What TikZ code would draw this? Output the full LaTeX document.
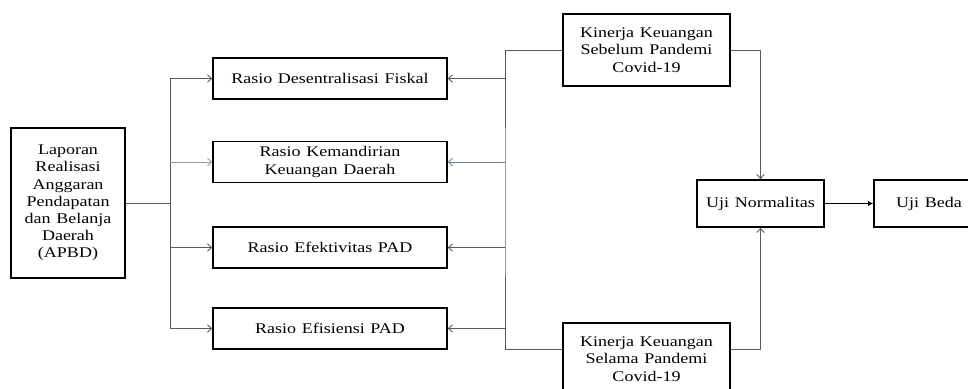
\documentclass[tikz,border=0pt]{standalone}
\usepackage{fontspec}
\setmainfont{Liberation Serif}[FakeStretch=1.22,WordSpace=1.25]
\usepackage{tikz}
\usetikzlibrary{arrows.meta,positioning,calc}
\usepackage{xcolor}
\definecolor{linegray}{HTML}{5A5A5A}
\definecolor{lightgray}{HTML}{9A9A9A}
\definecolor{slategray}{HTML}{6E7E90}

\begin{document}
\begin{tikzpicture}[
x=0.02cm, y=-0.02cm,
box/.style={
    draw,
    rectangle,
    line width=1pt,
    align=center,
    inner sep=2pt
},
rasio/.style={box, minimum width=4.68cm, minimum height=0.82cm},
kinerja/.style={box, minimum width=3.34cm, minimum height=1.44cm},
uji/.style={box, minimum height=0.94cm},
line/.style={draw=linegray, line width=0.5pt},
arr/.style={line, -{Straight Barb[length=0.8mm,width=1.5mm]}},
arrf/.style={line, draw=black, -{Latex[length=1mm,width=1mm]}},
every node/.style={font=\fontsize{8.4}{9.8}\selectfont}
]
\useasboundingbox (0,0) rectangle (968,389);

\node[box, minimum width=2.28cm, minimum height=3cm] (laporan) at (68,203) {
Laporan\\ Realisasi\\ Anggaran\\ Pendapatan\\ dan Belanja\\ Daerah\\ (APBD)
};

\node[rasio] (desentralisasi) at (330,78.5) {Rasio Desentralisasi Fiskal};
\node[rasio] (kemandirian) at (330,162) {Rasio Kemandirian\\ Keuangan Daerah};
\node[rasio] (efektivitas) at (330,247.5) {Rasio Efektivitas PAD};
\node[rasio] (efisiensi) at (330,328.5) {Rasio Efisiensi PAD};

\node[kinerja] (sebelum) at (646.5,50) {Kinerja Keuangan\\ Sebelum Pandemi\\ Covid-19};
\node[kinerja] (selama) at (646.5,359) {Kinerja Keuangan\\ Selama Pandemi\\ Covid-19};

\node[uji, minimum width=2.54cm] (normalitas) at (760.5,203.5) {Uji Normalitas};
\node[uji, minimum width=2.2cm] (beda) at (929,203.5) {Uji Beda};

\coordinate (lbus) at (170,203);
\coordinate (rbus) at (505,203);
\coordinate (selamain) at ($(selama.north west)!0.375!(selama.south west)$);
\coordinate (selamaout) at ($(selama.north east)!0.375!(selama.south east)$);

% Laporan -- rasio
\draw[line] (laporan.east) -- (lbus);
\draw[line] (lbus |- desentralisasi) -- (lbus |- efisiensi);
\draw[arr] (lbus |- desentralisasi) -- (desentralisasi.west);
\draw[arr, draw=lightgray] (lbus |- kemandirian) -- (kemandirian.west);
\draw[arr] (lbus |- efektivitas) -- (efektivitas.west);
\draw[arr] (lbus |- efisiensi) -- (efisiensi.west);

% Kinerja -- rasio
\draw[line] (sebelum.west) -| (rbus) |- (selamain);
\draw[arr] (rbus |- desentralisasi) -- (desentralisasi.east);
\draw[arr, draw=slategray] (rbus |- kemandirian) -- (kemandirian.east);
\draw[arr] (rbus |- efektivitas) -- (efektivitas.east);
\draw[arr] (rbus |- efisiensi) -- (efisiensi.east);

% Kinerja -- Uji Normalitas
\draw[arr] (sebelum.east) -| (normalitas.north);
\draw[arr] (selamaout) -| (normalitas.south);

% Uji Normalitas -- Uji Beda
\draw[arrf] (normalitas) -- (beda);

\end{tikzpicture}
\end{document}
